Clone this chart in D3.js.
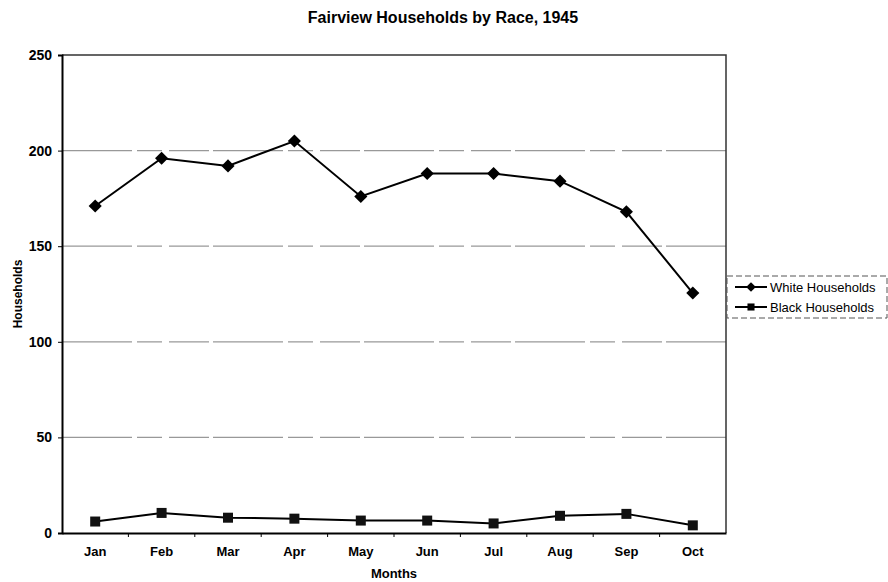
<!DOCTYPE html>
<html>
<head>
<meta charset="utf-8">
<script src="https://cdn.jsdelivr.net/npm/d3@7"></script>
<style>
  body { margin: 0; background: #fff; }
  svg text { font-family: "Liberation Sans", Arial, sans-serif; }
</style>
</head>
<body>
<svg id="chart" width="888" height="582"></svg>
<script>
const months = ["Jan","Feb","Mar","Apr","May","Jun","Jul","Aug","Sep","Oct"];
const whiteHouseholds = [171, 196, 192, 205, 176, 188, 188, 184, 168, 125.5];
const blackHouseholds = [6, 10.5, 8, 7.5, 6.5, 6.5, 5, 9, 10, 4];
const yTicks = [0, 50, 100, 150, 200, 250];

const svg = d3.select("#chart");
const margin = {top: 55, right: 162, bottom: 49, left: 62};
const width = 888 - margin.left - margin.right;
const height = 582 - margin.top - margin.bottom;

const g = svg.append("g")
    .attr("transform", "translate(" + margin.left + "," + margin.top + ")");

const x = d3.scaleBand()
    .domain(months)
    .range([0, width]);

const y = d3.scaleLinear()
    .domain([0, 250])
    .range([height, 0]);

// gridlines
g.append("g")
    .selectAll("line")
    .data(yTicks.filter(d => d > 0 && d < 250))
    .join("line")
    .attr("x1", 0)
    .attr("x2", width)
    .attr("y1", d => y(d))
    .attr("y2", d => y(d))
    .attr("stroke", "#999")
    .attr("stroke-width", 1.3)
    .attr("stroke-dasharray", "70,5,25,7,40,4");

// plot frame (top and right)
g.append("path")
    .attr("d", "M0,0H" + width + "V" + height)
    .attr("fill", "none")
    .attr("stroke", "#333")
    .attr("stroke-width", 1.5);

// y axis
const yAxis = d3.axisLeft(y)
    .tickValues(yTicks)
    .tickSize(4)
    .tickPadding(6);
const yg = g.append("g").call(yAxis);
yg.select(".domain").attr("stroke-width", 2);
yg.selectAll("text")
    .attr("font-size", 14)
    .attr("font-weight", "bold")
    .attr("fill", "#000");

// x axis, ticks on band edges
const xg = g.append("g")
    .attr("transform", "translate(0," + height + ")")
    .call(d3.axisBottom(x).tickSize(0).tickPadding(14));
xg.select(".domain").attr("stroke-width", 2);
xg.selectAll("text")
    .attr("font-size", 13)
    .attr("font-weight", "bold")
    .attr("fill", "#000");
xg.append("g")
    .selectAll("line")
    .data(months.slice(1))
    .join("line")
    .attr("x1", d => x(d))
    .attr("x2", d => x(d))
    .attr("y1", 0)
    .attr("y2", 4)
    .attr("stroke", "#000");

const cx = (d, i) => x(months[i]) + x.bandwidth() / 2;
const line = d3.line()
    .x(cx)
    .y(d => y(d));

// white households
g.append("path")
    .datum(whiteHouseholds)
    .attr("d", line)
    .attr("fill", "none")
    .attr("stroke", "#000")
    .attr("stroke-width", 2);
g.append("g")
    .selectAll("path")
    .data(whiteHouseholds)
    .join("path")
    .attr("d", d3.symbol(d3.symbolDiamond2, 110))
    .attr("transform", (d, i) => "translate(" + cx(d, i) + "," + y(d) + ")")
    .attr("fill", "#000");

// black households
g.append("path")
    .datum(blackHouseholds)
    .attr("d", line)
    .attr("fill", "none")
    .attr("stroke", "#000")
    .attr("stroke-width", 2);
g.append("g")
    .selectAll("rect")
    .data(blackHouseholds)
    .join("rect")
    .attr("x", (d, i) => cx(d, i) - 5)
    .attr("y", d => y(d) - 5)
    .attr("width", 10)
    .attr("height", 10)
    .attr("fill", "#111");

// title & axis labels
svg.append("text")
    .attr("x", 443)
    .attr("y", 23)
    .attr("text-anchor", "middle")
    .attr("font-size", 16)
    .attr("font-weight", "bold")
    .text("Fairview Households by Race, 1945");

svg.append("text")
    .attr("x", 394)
    .attr("y", 578)
    .attr("text-anchor", "middle")
    .attr("font-size", 13)
    .attr("font-weight", "bold")
    .text("Months");

svg.append("text")
    .attr("transform", "translate(22," + (margin.top + height / 2) + ") rotate(-90)")
    .attr("text-anchor", "middle")
    .attr("font-size", 12)
    .attr("font-weight", "bold")
    .text("Households");

// legend
const legend = svg.append("g").attr("transform", "translate(727,276)");
legend.append("rect")
    .attr("width", 160)
    .attr("height", 42)
    .attr("fill", "#fff")
    .attr("stroke", "#555")
    .attr("stroke-dasharray", "6,3");
const items = [
    {name: "White Households", marker: "diamond"},
    {name: "Black Households", marker: "square"}
];
const li = legend.selectAll(".item")
    .data(items)
    .join("g")
    .attr("transform", (d, i) => "translate(8," + (11 + i * 20) + ")");
li.append("line")
    .attr("x1", 0).attr("x2", 32)
    .attr("stroke", "#000")
    .attr("stroke-width", 2);
li.append("path")
    .attr("d", d => d.marker === "diamond"
        ? d3.symbol(d3.symbolDiamond2, 60)()
        : d3.symbol(d3.symbolSquare, 50)())
    .attr("transform", "translate(16,0)")
    .attr("fill", "#000");
li.append("text")
    .attr("x", 35)
    .attr("dy", "0.35em")
    .attr("font-size", 13)
    .text(d => d.name);
</script>
</body>
</html>
